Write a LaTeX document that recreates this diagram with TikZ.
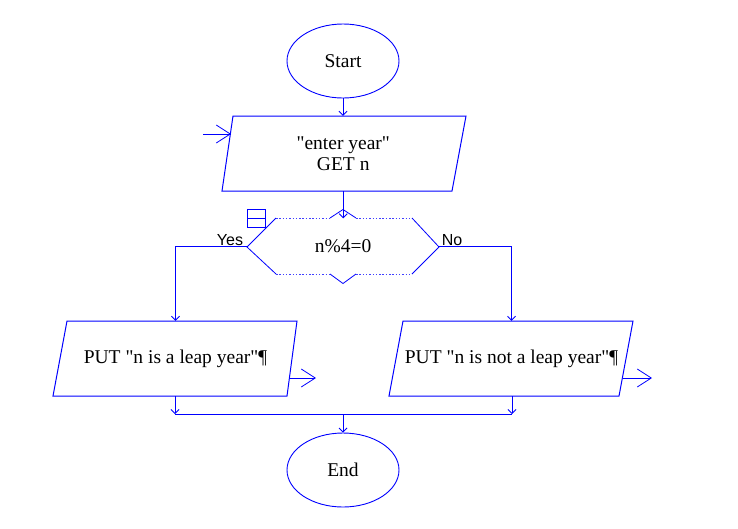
\documentclass[tikz,border=0pt]{standalone}
\usepackage{fontspec}
\newfontfamily\tnr{Liberation Serif}
\newfontfamily\arialf{Liberation Sans}
\usetikzlibrary{arrows.meta,shapes.geometric}
\definecolor{fc}{RGB}{0,0,255}
\tikzset{
  line/.style={draw=fc,line width=1pt},
  flow/.style={line,-{Straight Barb[length=4pt,width=8pt,line width=0.8pt]}},
  bigflow/.style={line,-{Straight Barb[length=14pt,width=18pt,line width=0.8pt]}},
  term/.style={ellipse,draw=fc,line width=0.9pt,minimum width=112pt,minimum height=74pt,inner sep=0pt,font=\tnr\fontsize{19.5}{23}\selectfont},
  txt/.style={inner sep=0pt,align=center,font=\tnr\fontsize{19.5}{21}\selectfont},
  lab/.style={inner sep=0pt,font=\arialf\fontsize{16}{18}\selectfont},
  dots/.style={draw=fc!75,line width=0.9pt,dash pattern=on 1.5pt off 1.8pt},
}
\begin{document}
\begin{tikzpicture}[x=1pt,y=-1pt]
\useasboundingbox (0,0) rectangle (738,528);
% Start
\node[term] (start) at (343,61) {Start};
% input
\node[txt,minimum width=231.5pt,minimum height=75pt] (get) at (343.25,153.5) {"enter year"\\GET n};
\draw[line] (233,116) -- (466,116) -- (452,191) -- (222,191) -- cycle;
\coordinate (entry) at (203,134);
\coordinate (entryend) at (231,134);
\draw[bigflow] (entry) -- (entryend);
\draw[flow] (start.south) -- (start.south |- get.north);
% decision
\node[txt,minimum width=192pt,minimum height=56pt] (dec) at (343,246.5) {n\%4=0};
\draw[line,line width=0.8pt] (276,218) -- (247,247) -- (276,274);
\draw[line,line width=0.8pt] (412,218) -- (439,247) -- (412,274);
\draw[line,line width=0.8pt] (330,218) -- (343,209.5) -- (356,218);
\draw[line,line width=0.8pt] (330,274) -- (343,283.5) -- (356,274);
\draw[dots] (276,218) -- (330,218);
\draw[dots] (356,218) -- (412,218);
\draw[dots] (276,274) -- (330,274);
\draw[dots] (356,274) -- (412,274);
\draw[flow] (get.south) -- (get.south |- dec.north);
% small icon
\draw[line] (247,209) rectangle (265,227);
\draw[line] (247,218) -- (265,218);
% outputs
\node[txt,minimum width=232pt,minimum height=75pt] (put1) at (175.5,358.5) {PUT "n is a leap year"¶};
\draw[line] (67,321) -- (297,321) -- (287,396) -- (53,396) -- cycle;
\node[txt,minimum width=230pt,minimum height=75pt] (put2) at (511.5,358.5) {PUT "n is not a leap year"¶};
\draw[line] (403,321) -- (633,321) -- (619,396) -- (389,396) -- cycle;
% branches
\draw[flow] (dec.west) -| (put1.north);
\draw[flow] (dec.east) -| (put2.north);
\node[lab] (yes) at (230,240.5) {Yes};
\node[lab] (no) at (452,240.5) {No};
% output arrows
\coordinate (o1a) at (289,378);
\coordinate (o1b) at (316,378);
\draw[bigflow] (o1a) -- (o1b);
\coordinate (o2a) at (622.5,378);
\coordinate (o2b) at (652,378);
\draw[bigflow] (o2a) -- (o2b);
% join
\node[term] (end) at (343,470) {End};
\coordinate (j1) at (175,414);
\coordinate (j2) at (512,414);
\draw[flow] (put1.south -| j1) -- (j1);
\draw[flow] (put2.south -| j2) -- (j2);
\draw[line] (j1) -- (j2);
\draw[flow] (end.north |- j1) -- (end.north);
\end{tikzpicture}
\end{document}
